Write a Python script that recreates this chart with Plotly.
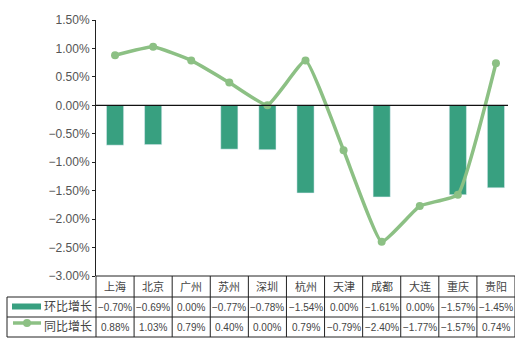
import plotly.graph_objects as go

cities = ["上海", "北京", "广州", "苏州", "深圳", "杭州", "天津", "成都", "大连", "重庆", "贵阳"]
huanbi = [-0.70, -0.69, 0.00, -0.77, -0.78, -1.54, 0.00, -1.61, 0.00, -1.57, -1.45]
tongbi = [0.88, 1.03, 0.79, 0.40, 0.00, 0.79, -0.79, -2.40, -1.77, -1.57, 0.74]
series_names = ["环比增长", "同比增长"]
y_ticks = [1.5, 1.0, 0.5, 0.0, -0.5, -1.0, -1.5, -2.0, -2.5, -3.0]

BAR_COLOR = "#38a080"
LINE_COLOR = "#8cc084"
FONT = "Liberation Sans, Noto Sans CJK SC, sans-serif"

def fmt(v):
    s = f"{v:.2f}%"
    return s.replace("-", "\u2212")

xs = list(range(len(cities)))

fig = go.Figure()
fig.add_trace(go.Bar(x=xs, y=huanbi, marker_color=BAR_COLOR, width=0.45,
                     name=series_names[0], showlegend=False))
fig.add_trace(go.Scatter(x=xs, y=tongbi, mode="lines+markers",
                         line=dict(color=LINE_COLOR, width=3.5, shape="spline", smoothing=0.35),
                         marker=dict(size=8, color=LINE_COLOR),
                         name=series_names[1], showlegend=False))

W_PLOT = 419.0
H_PLOT = 256.0
def py(pix_below):  # pixels below plot bottom -> paper y
    return -pix_below / H_PLOT
def px(pix_from_left):  # pixels from plot left -> paper x
    return pix_from_left / W_PLOT

shapes = []
line_style = dict(color="#222", width=1)
# zero line
shapes.append(dict(type="line", xref="paper", yref="y", x0=0, x1=px(412), y0=0, y1=0, line=dict(color="#111", width=1.2)))
# table horizontal lines
r0, r1, r2, r3 = 0, 21, 41, 61
shapes.append(dict(type="line", xref="paper", yref="paper", x0=0, x1=1, y0=py(r0), y1=py(r0), line=line_style))
for r in (r1, r2, r3):
    shapes.append(dict(type="line", xref="paper", yref="paper", x0=px(-89), x1=1, y0=py(r), y1=py(r), line=line_style))
# vertical lines
shapes.append(dict(type="line", xref="paper", yref="paper", x0=0, x1=0, y0=py(r0), y1=py(r3), line=line_style))
shapes.append(dict(type="line", xref="paper", yref="paper", x0=px(-89), x1=px(-89), y0=py(r1), y1=py(r3), line=line_style))
for k in range(1, len(cities) + 1):
    xv = -0.5 + k
    shapes.append(dict(type="line", xref="x", yref="paper", x0=xv, x1=xv, y0=py(r0), y1=py(r3), line=line_style))
# legend keys
shapes.append(dict(type="rect", xref="paper", yref="paper", x0=px(-84), x1=px(-55), y0=py(27.5), y1=py(33.5),
                   fillcolor=BAR_COLOR, line=dict(width=0)))
shapes.append(dict(type="line", xref="paper", yref="paper", x0=px(-83), x1=px(-55), y0=py(47), y1=py(47),
                   line=dict(color=LINE_COLOR, width=3.5)))
shapes.append(dict(type="circle", xref="paper", yref="paper", x0=px(-73), x1=px(-65), y0=py(43), y1=py(51),
                   fillcolor=LINE_COLOR, line=dict(width=0)))

annotations = []
TXT = "#444"
tf = dict(family=FONT, size=11, color=TXT)
for i, c in enumerate(cities):
    annotations.append(dict(x=i, xref="x", y=py((r0 + r1) / 2), yref="paper", text=c, showarrow=False,
                            font=tf, xanchor="center", yanchor="middle"))
    annotations.append(dict(x=i, xref="x", y=py((r1 + r2) / 2), yref="paper", text=fmt(huanbi[i]), showarrow=False,
                            font=dict(family=FONT, size=10, color=TXT), xanchor="center", yanchor="middle"))
    annotations.append(dict(x=i, xref="x", y=py((r2 + r3) / 2), yref="paper", text=fmt(tongbi[i]), showarrow=False,
                            font=dict(family=FONT, size=10, color=TXT), xanchor="center", yanchor="middle"))
annotations.append(dict(x=px(-54), xref="paper", y=py((r1 + r2) / 2), yref="paper", text=series_names[0],
                        showarrow=False, font=dict(family=FONT, size=12, color=TXT), xanchor="left", yanchor="middle"))
annotations.append(dict(x=px(-54), xref="paper", y=py((r2 + r3) / 2), yref="paper", text=series_names[1],
                        showarrow=False, font=dict(family=FONT, size=12, color=TXT), xanchor="left", yanchor="middle"))

fig.update_layout(
    width=524, height=348,
    margin=dict(l=96, r=9, t=20, b=72, pad=0),
    paper_bgcolor="white", plot_bgcolor="white",
    bargap=0.5,
    xaxis=dict(range=[-0.5, len(cities) - 0.5], showticklabels=False, showgrid=False, zeroline=False,
               showline=False, ticks=""),
    yaxis=dict(range=[-3.0, 1.5], tickvals=y_ticks, ticktext=[fmt(v) for v in y_ticks],
               showgrid=False, zeroline=False, showline=True, linecolor="#222", linewidth=1,
               ticks="outside", ticklen=3, tickcolor="#222",
               tickfont=dict(family=FONT, size=12, color="#555")),
    shapes=shapes, annotations=annotations,
)

fig.write_html("out.html")
